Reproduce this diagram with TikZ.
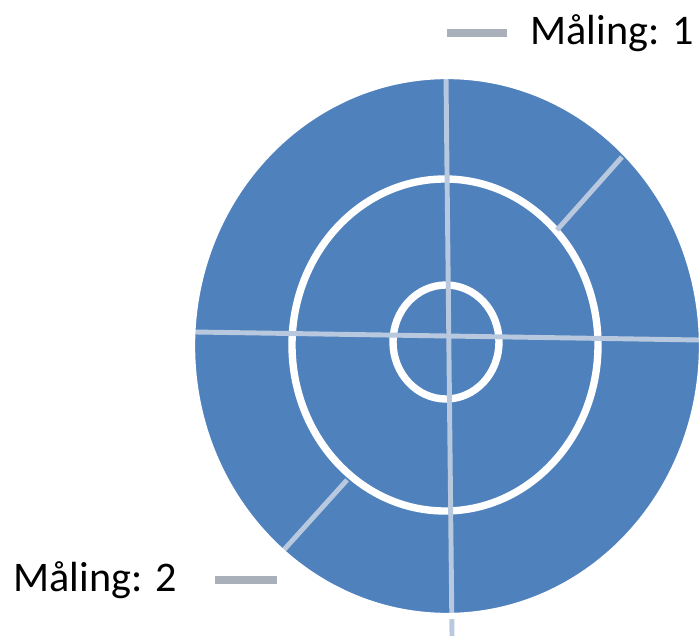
\documentclass[tikz,border=0pt]{standalone}
\usepackage{fontspec}
\setmainfont{Carlito}
\definecolor{diskblue}{HTML}{4F81BD}
\definecolor{cutgrey}{HTML}{B8C8DE}
\definecolor{keygrey}{HTML}{A9B0BA}
\tikzset{
  cut/.style = {color=cutgrey, line width=1.4pt},
  ring/.style = {color=white, line width=2.1pt},
  key/.style = {font=\fontsize{12}{14}\selectfont, anchor=west, inner sep=0pt}
}

\begin{document}
\begin{tikzpicture}[scale=1]
	\def \cx{4.47}
	\def \cy{2.92}

	\useasboundingbox (0,0) rectangle (6.99,6.38);

	% Disk
	\fill[diskblue] (\cx,\cy) ellipse (2.53 and 2.68);

	% Rings
	\draw[ring] (\cx-0.02,\cy+0.01) ellipse (1.53 and 1.66); % middle
	\draw[ring] (\cx-0.01,\cy+0.04) ellipse (0.53 and 0.57); % inner

	% Cuts
	\draw[cut] (4.46,5.60) -- (4.52,0.02);
	\draw[cut] (1.95,3.06) -- (6.99,2.98);
	\draw[cut] (6.22,4.81) -- (5.57,4.08); % maaling 1
	\draw[cut] (3.47,1.58) -- (2.82,0.86); % maaling 2

	% Rim
	\draw[color=white, line width=1.8pt] (\cx,\cy) ellipse (2.55 and 2.70);

	% Legend
	\draw[color=keygrey, line width=2.2pt] (4.47,6.05) -- (5.07,6.05);
	\node[key] (m1) at (5.30,6.05) {Måling: 1};
	\draw[color=keygrey, line width=2.2pt] (2.15,0.58) -- (2.77,0.58);
	\node[key] (m2) at (0.13,0.58) {Måling: 2};

\end{tikzpicture}
\end{document}
